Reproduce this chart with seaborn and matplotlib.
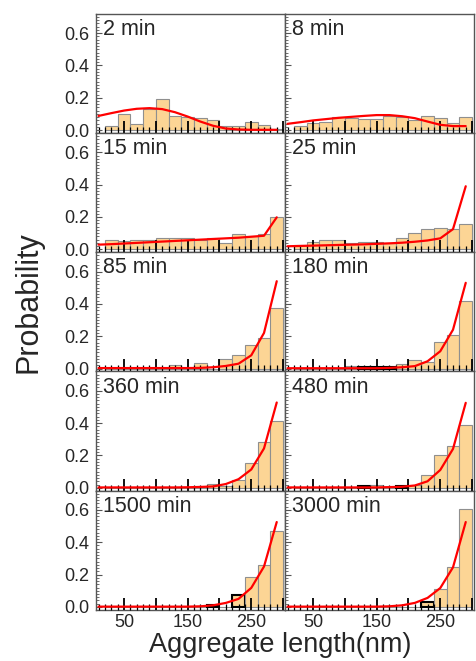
import matplotlib
matplotlib.use("Agg")
import matplotlib.pyplot as plt
from matplotlib.ticker import MultipleLocator, FixedLocator, FuncFormatter
import seaborn as sns

# Histogram bins (nm): 20 nm wide, from 20 to 300
bin_edges = [20, 40, 60, 80, 100, 120, 140, 160, 180, 200, 220, 240, 260, 280, 300]
bin_centers = [30, 50, 70, 90, 110, 130, 150, 170, 190, 210, 230, 250, 270, 290]
# Positions where the model curve is evaluated
fit_x = [10, 30, 50, 70, 90, 110, 130, 150, 170, 190, 210, 230, 250, 270, 290]

times = ["2 min", "8 min", "15 min", "25 min", "85 min",
         "180 min", "360 min", "480 min", "1500 min", "3000 min"]

p_2 = [0.023, 0.10, 0.04, 0.13, 0.19, 0.085, 0.08, 0.072, 0.06, 0.027, 0.027, 0.05, 0.029, 0.006]
p_8 = [0.027, 0.047, 0.053, 0.084, 0.072, 0.07, 0.07, 0.088, 0.08, 0.06, 0.088, 0.072, 0.047, 0.08]
p_15 = [0.06, 0.05, 0.06, 0.06, 0.068, 0.068, 0.068, 0.06, 0.068, 0.04, 0.095, 0.085, 0.095, 0.198]
p_25 = [0.029, 0.047, 0.056, 0.056, 0.039, 0.047, 0.047, 0.039, 0.07, 0.10, 0.126, 0.132, 0.126, 0.154]
p_85 = [0, 0, 0, 0, 0, 0.023, 0, 0.037, 0, 0.062, 0.086, 0.148, 0.19, 0.377]
p_180 = [0, 0, 0, 0, 0.015, 0.01, 0.01, 0.01, 0.03, 0.051, 0.043, 0.167, 0.21, 0.42]
p_360 = [0, 0, 0, 0, 0, 0, 0, 0.005, 0.025, 0.01, 0.047, 0.15, 0.28, 0.41]
p_480 = [0, 0, 0, 0, 0, 0.01, 0.018, 0, 0.01, 0.019, 0.08, 0.204, 0.26, 0.385]
p_1500 = [0, 0, 0, 0, 0, 0, 0, 0, 0.015, 0, 0.072, 0.183, 0.257, 0.467]
p_3000 = [0, 0, 0, 0, 0, 0, 0, 0, 0, 0, 0.029, 0.113, 0.245, 0.607]

f_2 = [0.088, 0.105, 0.121, 0.132, 0.136, 0.130, 0.111, 0.084, 0.053, 0.027, 0.010, 0.004, 0.002, 0.002, 0.002]
f_8 = [0.039, 0.049, 0.060, 0.068, 0.076, 0.082, 0.088, 0.093, 0.093, 0.086, 0.074, 0.053, 0.033, 0.025, 0.025]
f_15 = [0.029, 0.032, 0.036, 0.040, 0.044, 0.048, 0.052, 0.056, 0.060, 0.064, 0.068, 0.072, 0.078, 0.084, 0.198]
f_25 = [0.019, 0.021, 0.023, 0.025, 0.027, 0.029, 0.031, 0.034, 0.037, 0.041, 0.047, 0.055, 0.068, 0.125, 0.39]
f_85 = [0.003, 0.003, 0.003, 0.003, 0.003, 0.003, 0.003, 0.003, 0.004, 0.008, 0.016, 0.03, 0.082, 0.22, 0.54]
f_180 = [0.002, 0.002, 0.002, 0.002, 0.002, 0.002, 0.002, 0.002, 0.004, 0.008, 0.015, 0.045, 0.107, 0.24, 0.53]
f_360 = [0.002, 0.002, 0.002, 0.002, 0.002, 0.002, 0.002, 0.003, 0.005, 0.008, 0.023, 0.053, 0.113, 0.243, 0.527]
f_480 = [0.002, 0.002, 0.002, 0.002, 0.002, 0.002, 0.002, 0.002, 0.004, 0.006, 0.014, 0.04, 0.11, 0.24, 0.525]
f_1500 = [0.002, 0.002, 0.002, 0.002, 0.002, 0.002, 0.002, 0.002, 0.004, 0.01, 0.025, 0.05, 0.118, 0.25, 0.525]
f_3000 = [0.002, 0.002, 0.002, 0.002, 0.002, 0.002, 0.002, 0.002, 0.004, 0.01, 0.025, 0.056, 0.117, 0.245, 0.525]

hist = dict(zip(times, [p_2, p_8, p_15, p_25, p_85, p_180, p_360, p_480, p_1500, p_3000]))
fit = dict(zip(times, [f_2, f_8, f_15, f_25, f_85, f_180, f_360, f_480, f_1500, f_3000]))

# Bins drawn with a dark outline
outlined = {"180 min": [5, 6, 7], "480 min": [5, 8], "1500 min": [8, 10], "3000 min": [10]}

sns.set_style("white")
plt.rcParams["font.family"] = ["Liberation Sans", "DejaVu Sans"]

fig, axes = plt.subplots(5, 2, figsize=(4.76, 6.61), dpi=100, sharex=True, sharey=True,
                         gridspec_kw=dict(hspace=0, wspace=0))
fig.subplots_adjust(left=0.2017, right=0.9958, top=0.9793, bottom=0.0776)

bar_color = "#FCD595"
for ax, t in zip(axes.flat, times):
    sns.histplot(x=bin_centers, weights=hist[t], bins=bin_edges, ax=ax,
                 color=bar_color, edgecolor="#8f8f8f", linewidth=0.8, alpha=1, zorder=1)
    for i in outlined.get(t, []):
        ax.patches[i].set_edgecolor("black")
        ax.patches[i].set_linewidth(1.5)
    sns.lineplot(x=fit_x, y=fit[t], ax=ax, color="red", linewidth=1.6, zorder=4)
    ax.text(0.035, 0.955, t, transform=ax.transAxes, ha="left", va="top", fontsize=15.5)

    # ticks are drawn over the bars
    ax.set_axisbelow(False)
    ax.set_xlim(6, 303)
    ax.set_ylim(-0.017, 0.72)
    ax.set_xlabel("")
    ax.set_ylabel("")
    ax.xaxis.set_major_locator(MultipleLocator(50))
    ax.xaxis.set_minor_locator(MultipleLocator(10))
    ax.xaxis.set_major_formatter(FuncFormatter(
        lambda v, p: f"{v:.0f}" if round(v) in (50, 150, 250) else ""))
    ax.yaxis.set_major_locator(FixedLocator([0.0, 0.2, 0.4, 0.6]))
    ax.yaxis.set_minor_locator(MultipleLocator(0.02))
    ax.yaxis.set_major_formatter(FuncFormatter(lambda v, p: f"{v:.1f}"))
    ax.tick_params(axis="x", which="major", direction="in", length=9, width=1.3,
                   color="black", bottom=True, top=False, labelsize=13, pad=3)
    ax.tick_params(axis="x", which="minor", direction="in", length=4.5, width=0.9,
                   color="black", bottom=True, top=False)
    ax.tick_params(axis="y", which="major", direction="in", length=4, width=0.8,
                   color="#555555", left=True, right=False, labelsize=13, pad=5)
    ax.tick_params(axis="y", which="minor", direction="in", length=2.5, width=0.6,
                   color="#555555", left=True, right=False)
    for s in ax.spines.values():
        s.set_color("#555555")
        s.set_linewidth(1.0)

fig.text(0.059, 0.543, "Probability", rotation=90, ha="center", va="center", fontsize=22)
fig.text(0.588, 0.024, "Aggregate length(nm)", ha="center", va="center", fontsize=19.5)

fig.savefig("out.png", dpi=100)
